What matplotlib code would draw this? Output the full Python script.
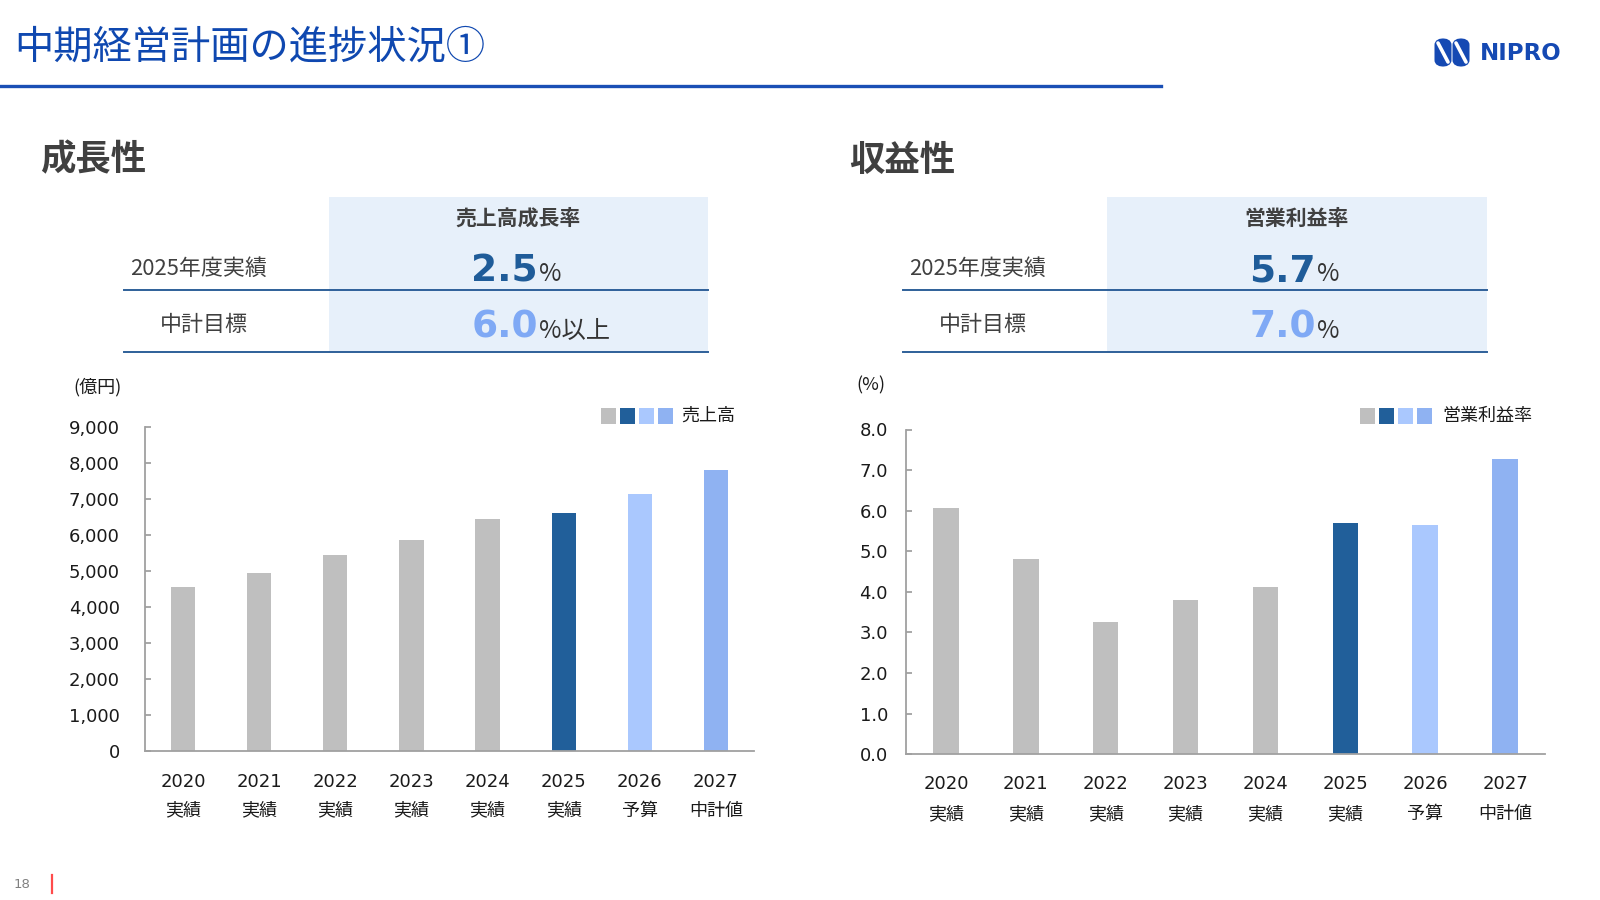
import matplotlib
matplotlib.use("Agg")
import matplotlib.pyplot as plt
from matplotlib.patches import Rectangle, FancyBboxPatch
import matplotlib.lines as mlines

plt.rcParams['font.family'] = ['DejaVu Sans', 'Noto Sans CJK JP']
CJK = ['Noto Sans CJK JP', 'DejaVu Sans']

# ---------------- data ----------------
years = ['2020', '2021', '2022', '2023', '2024', '2025', '2026', '2027']
kinds = ['実績', '実績', '実績', '実績', '実績', '実績', '予算', '中計値']
sales = [4550, 4940, 5445, 5855, 6435, 6600, 7140, 7800]
margin = [6.06, 4.82, 3.25, 3.81, 4.13, 5.69, 5.65, 7.27]
sales_ticks = [0, 1000, 2000, 3000, 4000, 5000, 6000, 7000, 8000, 9000]
margin_ticks = [0, 1, 2, 3, 4, 5, 6, 7, 8]

c_gray = '#bfbfbf'
c_dark = '#215f9a'
c_light = '#aac8fe'
c_mid = '#8fb2f2'
bar_colors = [c_gray] * 5 + [c_dark, c_light, c_mid]
legend_colors = [c_gray, c_dark, c_light, c_mid]

W, H = 1600, 900
fig = plt.figure(figsize=(16, 9), dpi=100)


def fx(x):
    return x / W


def fy(y):
    return 1 - y / H


def ftext(x, y, s, **kw):
    fig.text(fx(x), fy(y), s, **kw)


# ---------------- header ----------------
title_blue = '#0f48b0'
ftext(14, 48, '中期経営計画の進捗状況①', fontsize=28.3, color=title_blue,
      family=CJK, va='center', ha='left')
fig.add_artist(mlines.Line2D([0, fx(1161)], [fy(86), fy(86)], color='#1a4fb5', lw=2.4))

# logo
logo_blue = '#1549b3'
for cx in (1443, 1461):
    fig.add_artist(FancyBboxPatch((fx(cx - 8.5), fy(67)), fx(17) - fx(0), fy(38) - fy(67),
                                  boxstyle='round,pad=0.0,rounding_size=0.0075',
                                  fc=logo_blue, ec='none'))
    fig.add_artist(mlines.Line2D([fx(cx - 5), fx(cx + 5)], [fy(43), fy(62)],
                                 color='white', lw=2.6, solid_capstyle='round'))
ftext(1480, 53, 'NIPRO', fontsize=16.5, fontweight='heavy', color=logo_blue,
      va='center', ha='left')

# ---------------- section headings ----------------
head_col = '#404040'
ftext(40, 160, '成長性', fontsize=25.5, fontweight='bold', color=head_col, family=CJK,
      va='center', ha='left')
ftext(849, 160, '収益性', fontsize=25.5, fontweight='bold', color=head_col, family=CJK,
      va='center', ha='left')

# ---------------- tables ----------------
shade = '#e7f0fa'
line_col = '#2e6099'
num_dark = '#1f5c99'
num_light = '#7fa9f5'


def table(shade_x0, shade_x1, line_x0, lab1_x, lab2_x, header, v1, v2, suffix2, numx):
    fig.add_artist(Rectangle((fx(shade_x0), fy(352)), fx(shade_x1) - fx(shade_x0),
                             fy(197) - fy(352), fc=shade, ec='none', zorder=0))
    for yy in (290, 352):
        fig.add_artist(mlines.Line2D([fx(line_x0), fx(shade_x1)], [fy(yy), fy(yy)],
                                     color=line_col, lw=1.4))
    ftext((shade_x0 + shade_x1) / 2, 218, header, fontsize=15, fontweight='bold',
          color=head_col, family=CJK, ha='center', va='center')
    ftext(lab1_x, 269, '2025年度実績', fontsize=15.8, color=head_col, family=CJK,
          ha='left', va='center')
    ftext(lab2_x, 325, '中計目標', fontsize=15.8, color=head_col, family=CJK,
          ha='left', va='center')
    ftext(numx, 281, v1, fontsize=27, fontweight='bold', color=num_dark,
          ha='right', va='baseline')
    ftext(numx + 1, 281, '%', fontsize=17.5, color='#333333', family=CJK,
          ha='left', va='baseline')
    ftext(numx, 338, v2, fontsize=27, fontweight='bold', color=num_light,
          ha='right', va='baseline')
    ftext(numx + 1, 338, suffix2, fontsize=17.5, color='#333333', family=CJK,
          ha='left', va='baseline')


table(329, 708, 124, 130, 160, '売上高成長率', '2.5', '6.0', '%以上', 538)
table(1107, 1487, 903, 909, 939, '営業利益率', '5.7', '7.0', '%', 1316)


# ---------------- charts ----------------
def chart(box, values, ticks, ylim, fmt, pad_lab, unit, unit_xy, leg_x, xpad):
    x0, x1, ytop, ybot = box
    ax = fig.add_axes([fx(x0), fy(ybot), fx(x1) - fx(x0), fy(ytop) - fy(ybot)])
    xs = list(range(len(values)))
    ax.bar(xs, values, width=0.32, color=bar_colors, linewidth=0, zorder=2)
    ax.set_xlim(-0.5, len(values) - 0.5)
    ax.set_ylim(*ylim)
    ax.set_yticks(ticks)
    ax.set_yticklabels([fmt(t) for t in ticks], fontsize=13, color='#1a1a1a')
    ax.set_xticks(xs)
    ax.set_xticklabels(years, fontsize=13, color='#1a1a1a')
    ax.tick_params(axis='x', length=0, pad=xpad)
    ax.tick_params(axis='y', direction='in', length=4.5, width=1.2, color='#999999',
                   pad=pad_lab)
    for s in ('top', 'right'):
        ax.spines[s].set_visible(False)
    for s in ('left', 'bottom'):
        ax.spines[s].set_color('#a0a0a0')
        ax.spines[s].set_linewidth(1.3)
    for xi, k in zip(xs, kinds):
        ax.annotate(k, xy=(xi, 0), xycoords=('data', 'axes fraction'),
                    xytext=(0, -43), textcoords='offset points',
                    ha='center', va='center', fontsize=13, color='#1a1a1a', family=CJK)
    ftext(unit_xy[0], unit_xy[1], unit, fontsize=13, color='#1a1a1a', family=CJK,
          ha='left', va='center')
    for i, c in enumerate(legend_colors):
        fig.add_artist(Rectangle((fx(leg_x + i * 19), fy(423.5)), fx(15) - fx(0),
                                 fy(408) - fy(423.5), fc=c, ec='none'))
    return ax


ax1 = chart((145, 754, 426.5, 751), sales, sales_ticks, (0, 9000),
            lambda t: f'{t:,}', 18, '(億円)', (73, 387), 601, 15.5)
ftext(681, 416, '売上高', fontsize=13, color='#1a1a1a', family=CJK, ha='left', va='center')

ax2 = chart((906, 1545, 429.5, 754.2), margin, margin_ticks, (0, 8),
            lambda t: f'{t:.1f}', 13, '(%)', (856, 385), 1360, 15)
ftext(1442, 416, '営業利益率', fontsize=13, color='#1a1a1a', family=CJK, ha='left', va='center')

# ---------------- footer ----------------
ftext(14, 884, '18', fontsize=9.5, color='#808080', ha='left', va='center')
fig.add_artist(mlines.Line2D([fx(52), fx(52)], [fy(875), fy(893)], color='#ff4b4b', lw=1.6))

fig.savefig('out.png', dpi=100)
